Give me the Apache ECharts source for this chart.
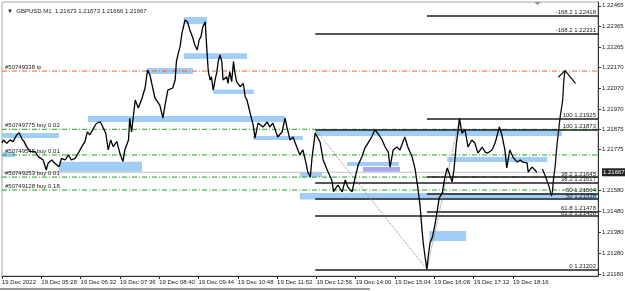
<!DOCTYPE html>
<html>
<head>
<meta charset="utf-8">
<script src="https://cdn.jsdelivr.net/npm/echarts@6/dist/echarts.min.js"></script>
<style>
html, body { margin: 0; padding: 0; background: #fff; }
#main { width: 625px; height: 291px; }
</style>
</head>
<body>
<div id="main"></div>
<script>
// GBPUSD M1, 19 Dec 2022 - close prices
var priceTimes = ['04:24','04:26','04:32','04:37','04:42','04:48','04:52','04:56','05:00','05:04','05:10','05:18','05:23','05:31','05:36','05:39','05:45','05:50','05:57','06:01','06:07','06:12','06:17','06:23','06:28','06:34','06:39','06:43','06:47','06:53','06:58','07:04','07:08','07:13','07:17','07:21','07:25','07:31','07:36','07:41','07:44','07:50','07:52','07:55','08:01','08:06','08:11','08:17','08:21','08:25','08:33','08:41','08:46','08:49','08:54','09:02','09:06','09:08','09:11','09:14','09:17','09:19','09:22','09:26','09:30','09:35','09:38','09:42','09:45','09:48','09:51','09:55','09:56','09:58','10:00','10:03','10:05','10:08','10:11','10:14','10:16','10:19','10:22','10:24','10:30','10:32','10:35','10:38','10:41','10:43','10:46','10:52','10:57','11:00','11:03','11:08','11:13','11:16','11:21','11:29','11:36','11:40','11:45','11:53','12:00','12:05','12:08','12:13','12:18','12:24','12:29','12:34','12:39','12:42','12:46','12:49','12:54','12:57','13:02','13:07','13:15','13:21','13:24','13:31','13:38','13:43','13:47','13:54','13:59','14:04','14:10','14:15','14:20','14:26','14:31','14:36','14:43','14:48','14:53','14:56','15:01','15:07','15:12','15:20','15:25','15:32','15:37','15:41','15:45','15:48','15:50','15:53','15:56','15:58','16:01','16:05','16:09','16:13','16:16','16:21','16:25','16:29','16:32','16:37','16:40','16:44','16:47','16:49','16:53','16:58','17:03','17:09','17:14','17:19','17:26','17:31','17:35','17:42','17:47','17:54','17:58','18:03','18:06','18:11','18:16','18:23','18:28','18:32','18:39','18:41','18:47','18:52','18:55'];
var priceValues = [1.21807,1.21822,1.21806,1.21822,1.21814,1.21846,1.21857,1.21830,1.21814,1.21790,1.21766,1.21766,1.21742,1.21726,1.21678,1.21710,1.21726,1.21710,1.21694,1.21734,1.21726,1.21750,1.21726,1.21734,1.21758,1.21790,1.21814,1.21861,1.21846,1.21878,1.21902,1.21909,1.21885,1.21854,1.21774,1.21822,1.21790,1.21814,1.21758,1.21718,1.21774,1.21822,1.21926,1.21861,1.22013,1.21975,1.22013,1.22071,1.22157,1.22133,1.22023,1.21989,1.21927,1.21980,1.22061,1.22071,1.22109,1.22197,1.22237,1.22269,1.22333,1.22357,1.22397,1.22388,1.22349,1.22309,1.22277,1.22253,1.22301,1.22317,1.22363,1.22388,1.22334,1.22238,1.22149,1.22109,1.22125,1.22061,1.22109,1.22149,1.22197,1.22229,1.22197,1.22109,1.22125,1.22093,1.22149,1.22101,1.22197,1.22149,1.22101,1.22077,1.22093,1.22029,1.22013,1.21951,1.21894,1.21831,1.21903,1.21884,1.21908,1.21884,1.21903,1.21836,1.21860,1.21927,1.21884,1.21822,1.21836,1.21788,1.21750,1.21774,1.21712,1.21668,1.21644,1.21740,1.21855,1.21861,1.21812,1.21726,1.21668,1.21630,1.21574,1.21606,1.21573,1.21630,1.21597,1.21573,1.21640,1.21702,1.21740,1.21783,1.21807,1.21836,1.21870,1.21854,1.21822,1.21788,1.21764,1.21692,1.21774,1.21788,1.21774,1.21836,1.21788,1.21740,1.21678,1.21597,1.21501,1.21391,1.21328,1.21261,1.21202,1.21261,1.21328,1.21357,1.21415,1.21486,1.21544,1.21568,1.21640,1.21688,1.21664,1.21621,1.21678,1.21807,1.21870,1.21925,1.21854,1.21870,1.21788,1.21822,1.21807,1.21759,1.21788,1.21764,1.21759,1.21774,1.21807,1.21884,1.21846,1.21774,1.21688,1.21774,1.21740,1.21716,1.21726,1.21716,1.21712,1.21668,1.21692,1.21678,1.21667];

// hand drawn projection and its arrow head
var drawTimes = ['19:04','19:10','19:15','19:19','19:22','19:25','19:27','19:30','19:33','19:37','19:39','19:41'];
var drawValues = [1.21683,1.21640,1.21597,1.21554,1.21630,1.21702,1.21774,1.21855,1.21932,1.22013,1.22109,1.22154];
var arrowTimes = ['19:30','19:41','19:58'];
var arrowValues = [1.22122,1.22154,1.22093];

// axes
var xTickTimes = ['04:24','05:28','06:32','07:36','08:40','09:44','10:48','11:52','12:56','14:00','15:04','16:08','17:12','18:16'];
var xTickLabels = ['19 Dec 2022','19 Dec 05:28','19 Dec 06:32','19 Dec 07:36','19 Dec 08:40','19 Dec 09:44','19 Dec 10:48','19 Dec 11:52','19 Dec 12:56','19 Dec 14:00','19 Dec 15:04','19 Dec 16:08','19 Dec 17:12','19 Dec 18:16'];
var yTickValues = [1.22465,1.22365,1.22265,1.22170,1.22070,1.21970,1.21875,1.21775,1.21580,1.21480,1.21380,1.21280,1.21180];
var bidPrice = 1.21667;
var xStart = '04:24', xEnd = '20:34';
var yMin = 1.21170, yMax = 1.22483;

// order lines
var orderNames = ['#50749338 tp','#50749775 buy 0.02','#50749545 buy 0.01','#50749253 buy 0.01','#50749128 buy 0.18'];
var orderPrices = [1.22152,1.21873,1.21750,1.21644,1.21582];
var orderIsTp = [true,false,false,false,false];

// two fibo retracements
var fibLevels = ['-168.2','100','38.2','50','61.8','0'];
var fibAPrices = [1.22331,1.21873,1.21617,1.21538,1.21458,1.21202];
var fibBPrices = [1.22418,1.21925,1.21645,1.21564,1.21478,1.21202];
var fibAStart = '12:54', fibBStart = '15:56';
var fibATrend = [['12:54',1.21873],['15:56',1.21202]];
var fibBTrend = [['15:56',1.21202],['16:49',1.21925]];

// rectangles (supply/demand zones)
var boxStart = ['09:20','09:20','08:20','10:08','06:44','04:24','04:24','05:57','11:13','12:54','12:29','13:46','16:29','12:29','16:00'];
var boxEnd   = ['09:58','11:03','09:35','11:14','12:05','05:57','04:45','08:12','12:34','19:36','13:05','15:10','19:12','20:34','17:00'];
var boxTop   = [1.22411,1.22238,1.22167,1.22064,1.21937,1.21855,1.21764,1.21718,1.21841,1.21874,1.21668,1.21716,1.21740,1.21568,1.21386];
var boxBottom= [1.22377,1.22210,1.22138,1.22042,1.21908,1.21831,1.21740,1.21670,1.21822,1.21841,1.21644,1.21697,1.21716,1.21537,1.21338];
var purpleBox = {start: '14:12', end: '15:12', top: 1.21692, bottom: 1.21670};

function toMin(s) {
    var p = s.split(':');
    return +p[0] * 60 + +p[1];
}
function hhmm(m) {
    var h = Math.floor(m / 60), mm = Math.round(m - h * 60);
    return (h < 10 ? '0' : '') + h + ':' + (mm < 10 ? '0' : '') + mm;
}

var FONT = 'Liberation Sans, Arial, sans-serif';
var BLUE = '#a2cdf7';
var X0 = toMin(xStart), X1 = toMin(xEnd) + 0.6;

var myChart = echarts.init(document.getElementById('main'));

var priceData = priceTimes.map(function (t, i) { return [toMin(t), priceValues[i]]; });
var drawData = drawTimes.map(function (t, i) { return [toMin(t), drawValues[i]]; });
var arrowData = arrowTimes.map(function (t, i) { return [toMin(t), arrowValues[i]]; });

var areaData = boxStart.map(function (s, i) {
    return [{ xAxis: toMin(s), yAxis: boxTop[i] }, { xAxis: Math.min(toMin(boxEnd[i]), X1), yAxis: boxBottom[i] }];
});
areaData.push([
    { xAxis: toMin(purpleBox.start), yAxis: purpleBox.top, itemStyle: { color: '#a9a7f1' } },
    { xAxis: toMin(purpleBox.end), yAxis: purpleBox.bottom }
]);

// every order line is its own two-point line series, the text rides on a see-through markLine
var orderSeries = orderNames.map(function (n, i) {
    var p = orderPrices[i];
    return {
        name: n,
        type: 'line',
        data: [[X0, p], [X1, p]],
        symbol: 'none',
        silent: true,
        lineStyle: { color: orderIsTp[i] ? '#f0642d' : '#22a022', type: [5, 2, 1, 2], width: 1 },
        markLine: {
            silent: true,
            symbol: ['none', 'none'],
            lineStyle: { color: 'rgba(0,0,0,0)', width: 1 },
            label: {
                show: true,
                position: 'insideStartTop', distance: [3, 1], fontSize: 6, color: '#222', fontFamily: FONT,
                formatter: n
            },
            data: [[{ coord: [X0, p] }, { coord: [X1, p] }]]
        },
        z: 2
    };
});

function fibSegments(prices, start, withZero) {
    var out = [];
    prices.forEach(function (p, i) {
        if (fibLevels[i] === '0' && !withZero) return;
        out.push([
            { coord: [toMin(start), p], name: fibLevels[i] + ' ' + p.toFixed(5) },
            { coord: [X1, p] }
        ]);
    });
    return out;
}
var fibLines = fibSegments(fibAPrices, fibAStart, true).concat(fibSegments(fibBPrices, fibBStart, false));

var trendLines = [fibATrend, fibBTrend].map(function (tr) {
    return [{ coord: [toMin(tr[0][0]), tr[0][1]] }, { coord: [toMin(tr[1][0]), tr[1][1]] }];
});

myChart.setOption({
    animation: false,
    backgroundColor: '#fff',
    textStyle: { fontFamily: FONT },
    title: {
        text: '\u25BC  GBPUSD.M1  1.21673 1.21673 1.21666 1.21667',
        left: 2, top: 3,
        textStyle: { fontSize: 6, fontWeight: 'normal', color: '#222', fontFamily: FONT }
    },
    grid: {
        left: 2, right: 27, top: 2, bottom: 15,
        containLabel: false, outerBoundsMode: 'none',
        show: true, borderColor: '#a8a8a8', borderWidth: 1
    },
    xAxis: {
        type: 'value',
        min: X0,
        max: X1,
        axisLine: { onZero: false, lineStyle: { color: '#333', width: 1 } },
        axisTick: { customValues: xTickTimes.map(toMin), length: 3, lineStyle: { color: '#333' } },
        axisLabel: {
            customValues: xTickTimes.map(toMin),
            fontSize: 6, color: '#222', align: 'left', margin: 3, fontFamily: FONT,
            formatter: function (v) {
                var i = xTickTimes.indexOf(hhmm(v));
                return i >= 0 ? xTickLabels[i] : '';
            }
        },
        splitLine: { show: false }
    },
    yAxis: {
        type: 'value',
        position: 'right',
        min: yMin,
        max: yMax,
        axisLine: { show: true, lineStyle: { color: '#333', width: 1 } },
        axisTick: { show: true, customValues: yTickValues, length: 3, lineStyle: { color: '#333' } },
        axisLabel: {
            customValues: yTickValues.concat([bidPrice]),
            fontSize: 6, color: '#222', margin: 4, fontFamily: FONT,
            formatter: function (v) {
                if (Math.abs(v - bidPrice) < 1e-7) return '{cur|' + v.toFixed(5) + '}';
                return v.toFixed(5);
            },
            rich: {
                cur: { fontSize: 6, color: '#fff', backgroundColor: '#222', padding: [1, 1, 1, 1], fontFamily: FONT }
            }
        },
        splitLine: { show: false }
    },
    graphic: [
        { type: 'polygon', shape: { points: [[534, 2], [541, 2], [537.5, 5]] }, style: { fill: '#999' } },
        { type: 'rect', shape: { x: 0, y: 288, width: 370, height: 2 }, style: { fill: '#9a9a9a' } }
    ],
    series: [
        {
            name: 'zones',
            type: 'line',
            data: [],
            silent: true,
            markArea: {
                silent: true,
                itemStyle: { color: BLUE, opacity: 1 },
                data: areaData
            },
            z: 1
        },
        {
            name: 'bid',
            type: 'line',
            data: [[X0, bidPrice], [X1, bidPrice]],
            symbol: 'none',
            silent: true,
            lineStyle: { color: '#c4c4c4', type: 'solid', width: 1 },
            z: 2
        }
    ].concat(orderSeries).concat([
        {
            name: 'fibo',
            type: 'line',
            data: [],
            silent: true,
            markLine: {
                silent: true,
                symbol: ['none', 'none'],
                lineStyle: { color: '#1e1e1e', type: 'solid', width: 1.6 },
                label: {
                    position: 'insideEndTop', distance: [2, 0], fontSize: 6, color: '#222', fontFamily: FONT,
                    formatter: function (p) { return p.name; }
                },
                data: fibLines
            },
            z: 3
        },
        {
            name: 'fibo trend',
            type: 'line',
            data: [],
            silent: true,
            markLine: {
                silent: true,
                symbol: ['none', 'none'],
                lineStyle: { color: '#8a8a8a', type: 'dotted', width: 1 },
                label: { show: false },
                data: trendLines
            },
            z: 3
        },
        {
            name: 'GBPUSD',
            type: 'line',
            data: priceData,
            showSymbol: false,
            lineStyle: { color: '#000', width: 1.3 },
            z: 5
        },
        {
            name: 'projection',
            type: 'line',
            data: drawData,
            smooth: 0.3,
            showSymbol: false,
            lineStyle: { color: '#111', width: 1.3 },
            z: 5
        },
        {
            name: 'arrow',
            type: 'line',
            data: arrowData,
            showSymbol: false,
            lineStyle: { color: '#111', width: 1.3 },
            z: 5
        }
    ])
});
</script>
</body>
</html>
